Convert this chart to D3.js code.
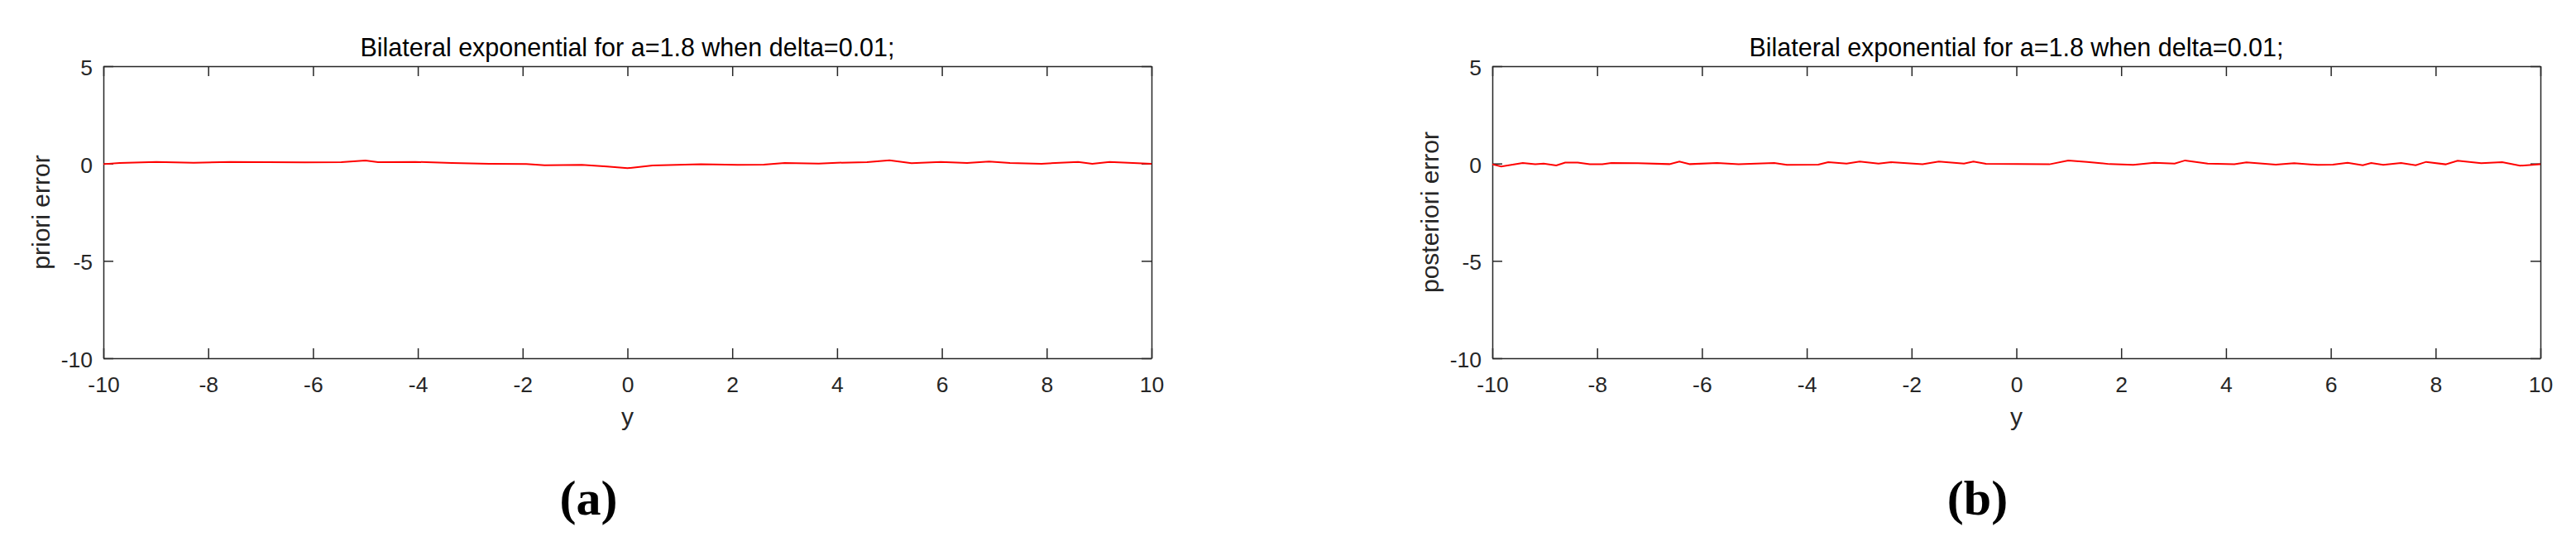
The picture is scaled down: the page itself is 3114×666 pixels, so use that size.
<!DOCTYPE html>
<html>
<head>
<meta charset="utf-8">
<script src="https://cdn.jsdelivr.net/npm/d3@7"></script>
<style>
  body { margin: 0; background: #fff; }
  svg { display: block; }
  .tick text { font-family: "Liberation Sans", Arial, sans-serif; font-size: 26.5px; fill: #262626; }
  .tick line, .domain { stroke: #262626; stroke-width: 1.5; }
</style>
</head>
<body>
<svg class="fig"></svg>
<script>
// Width and height of the whole figure
var width = 3114, height = 666;

// Shared axis ticks
var xTicks = [-10, -8, -6, -4, -2, 0, 2, 4, 6, 8, 10];
var yTicks = [-10, -5, 0, 5];

// (a) priori error
var prioriX = [-10, -9.69, -8.99, -8.28, -7.58, -6.87, -6.16, -5.46, -5.0, -4.76, -4.05, -3.35, -2.64, -1.93, -1.58, -0.87, -0.39, 0,
  0.48, 1.4, 2.1, 2.6, 3.0, 3.65, 4.0, 4.57, 5.0, 5.42, 5.98, 6.48, 6.9, 7.3, 7.9, 8.6, 8.87, 9.2, 10];
var prioriY = [-0.03, 0.03, 0.085, 0.04, 0.085, 0.07, 0.06, 0.07, 0.16, 0.07, 0.085, 0.03, -0.01, -0.03, -0.085, -0.07, -0.155, -0.24,
  -0.1, -0.04, -0.07, -0.055, 0.03, 0, 0.04, 0.07, 0.17, 0.015, 0.085, 0.03, 0.1, 0.03, -0.01, 0.085, -0.01, 0.085, -0.01];

// (b) posteriori error
var posterioriX = [-10, -9.83, -9.42, -9.18, -9.02, -8.78, -8.61, -8.37, -8.14, -7.9, -7.73, -7.22, -6.62, -6.43, -6.23, -5.71, -5.3,
  -4.62, -4.38, -3.78, -3.59, -3.24, -2.99, -2.63, -2.39, -1.79, -1.48, -1.0, -0.82, -0.58, 0.63, 0.99, 1.35, 1.78, 2.23, 2.63,
  3.02, 3.22, 3.65, 4.16, 4.39, 4.95, 5.3, 5.75, 6.04, 6.32, 6.61, 6.77, 7.0, 7.34, 7.62, 7.82, 8.19, 8.42, 8.87, 9.27, 9.61, 10];
var posterioriY = [-0.04, -0.15, 0.03, -0.04, 0, -0.1, 0.05, 0.05, -0.04, -0.04, 0.03, 0.015, -0.03, 0.1, -0.03, 0.03, -0.04,
  0.03, -0.07, -0.055, 0.07, 0, 0.1, 0, 0.07, -0.04, 0.1, 0, 0.1, -0.01, -0.04, 0.16, 0.085, -0.03, -0.07, 0.04,
  0, 0.16, 0, -0.04, 0.055, -0.055, 0.015, -0.07, -0.055, 0.04, -0.085, 0.03, -0.07, 0.03, -0.085, 0.085, -0.04, 0.14, 0.015, 0.07, -0.11, -0.04];

var panels = [
  { left: 125, xs: prioriX, ys: prioriY, ylabel: "priori error", tag: "(a)" },
  { left: 1804, xs: posterioriX, ys: posterioriY, ylabel: "posteriori error", tag: "(b)" }
];

var plotW = 1267, plotTop = 80, plotH = 353;
var fmt = function (d) { return String(d); }; // plain hyphen minus, like MATLAB

var svg = d3.select(".fig")
  .attr("width", width)
  .attr("height", height);

panels.forEach(function (p) {
  var g = svg.append("g").attr("transform", "translate(" + p.left + "," + plotTop + ")");

  var x = d3.scaleLinear().domain([-10, 10]).range([0, plotW]);
  var y = d3.scaleLinear().domain([-10, 5]).range([plotH, 0]);

  // bottom / left axes with labels, ticks pointing inward
  g.append("g")
    .attr("transform", "translate(0," + plotH + ")")
    .call(d3.axisBottom(x).tickValues(xTicks).tickSize(-12).tickSizeOuter(0).tickPadding(22).tickFormat(fmt));
  g.append("g")
    .call(d3.axisLeft(y).tickValues(yTicks).tickSize(-12).tickSizeOuter(0).tickPadding(13).tickFormat(fmt))
    .selectAll("text").attr("dy", "0.4em");
  // top / right axes, ticks only
  g.append("g")
    .call(d3.axisTop(x).tickValues(xTicks).tickSize(-12).tickSizeOuter(0).tickFormat(""));
  g.append("g")
    .attr("transform", "translate(" + plotW + ",0)")
    .call(d3.axisRight(y).tickValues(yTicks).tickSize(-12).tickSizeOuter(0).tickFormat(""));

  // the data line
  var pts = p.xs.map(function (d, i) { return [d, p.ys[i]]; });
  g.append("path")
    .datum(pts)
    .attr("fill", "none")
    .attr("stroke", "#ff0000")
    .attr("stroke-width", 2)
    .attr("d", d3.line().x(function (d) { return x(d[0]); }).y(function (d) { return y(d[1]); }));

  // title
  g.append("text")
    .attr("x", plotW / 2)
    .attr("y", -12)
    .attr("text-anchor", "middle")
    .style("font-family", "Liberation Sans, Arial, sans-serif")
    .style("font-size", "30.5px")
    .style("fill", "#000")
    .text("Bilateral exponential for a=1.8 when delta=0.01;");

  // axis labels
  g.append("text")
    .attr("x", plotW / 2)
    .attr("y", 514 - plotTop)
    .attr("text-anchor", "middle")
    .style("font-family", "Liberation Sans, Arial, sans-serif")
    .style("font-size", "30px")
    .style("fill", "#262626")
    .text("y");

  g.append("text")
    .attr("transform", "translate(-65," + plotH / 2 + ") rotate(-90)")
    .attr("text-anchor", "middle")
    .style("font-family", "Liberation Sans, Arial, sans-serif")
    .style("font-size", "30px")
    .style("fill", "#262626")
    .text(p.ylabel);

  // panel tag
  g.append("text")
    .attr("x", plotW / 2 - 47)
    .attr("y", 622 - plotTop)
    .attr("text-anchor", "middle")
    .style("font-family", "Liberation Serif, Times New Roman, serif")
    .style("font-weight", "bold")
    .style("font-size", "60px")
    .style("fill", "#000")
    .text(p.tag);
});
</script>
</body>
</html>
